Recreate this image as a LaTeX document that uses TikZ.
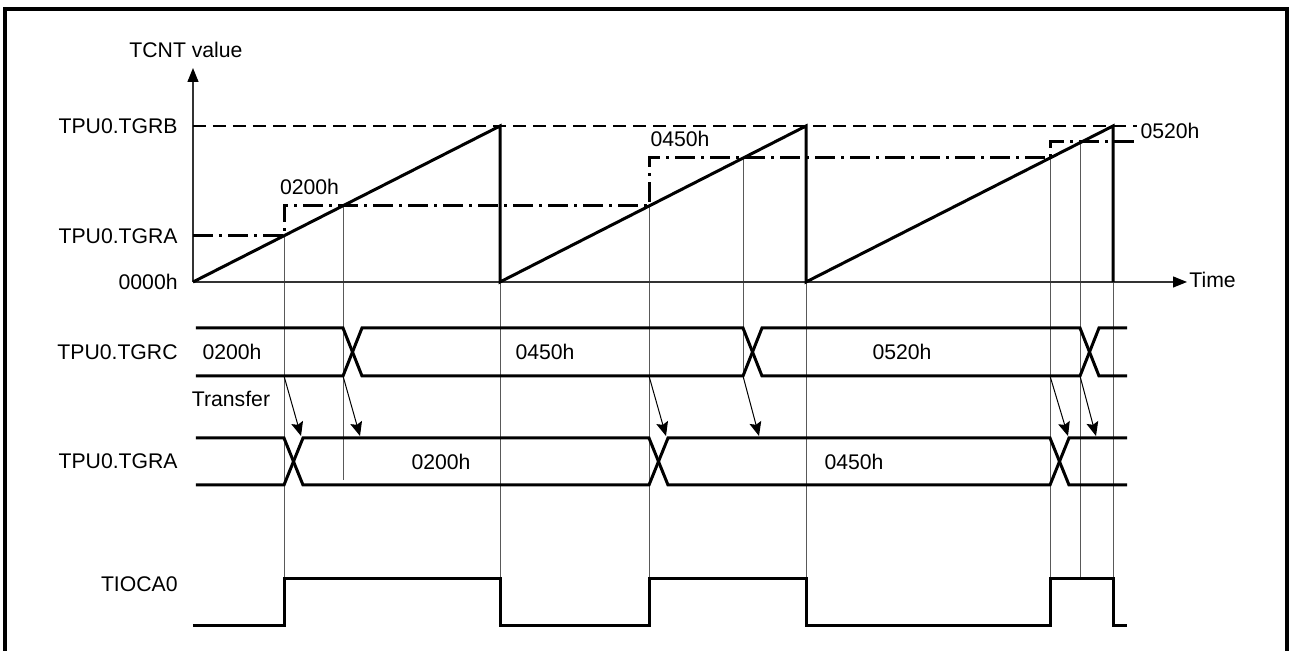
\documentclass[tikz,border=0pt]{standalone}
\usepackage{fontspec}
\setmainfont{Liberation Sans}
\usetikzlibrary{arrows.meta}

\begin{document}
\begin{tikzpicture}[x=0.5pt,y=0.5pt,
    lbl/.style={font=\fontsize{10.6}{12}\selectfont,inner sep=0pt},
    sig/.style={line width=1.5pt,line join=miter},
    guide/.style={black!65,line width=0.5pt},
    axis/.style={black!80,line width=0.6pt,-{Triangle[length=7pt,width=5.5pt,black]}},
    transfer/.style={line width=0.5pt,-{Stealth[length=7pt,width=6pt,inset=1.2pt]}},
    maxline/.style={line width=1pt,dash pattern=on 6.5pt off 3.5pt},
    cmpline/.style={line width=1.5pt,dash pattern=on 10pt off 3pt on 1.5pt off 3pt}]

  \useasboundingbox (-193,-369) rectangle (1097,282);

  % Cadre
  \draw[line width=2pt] (-188,-369) -- (-188,273) -- (1094,273) -- (1094,-369);

  % Lignes de rappel
  \foreach \x/\ya/\yb in {91/46/-297, 150/76/-198, 307/0/-297, 456/76/-297,
      550/124/-94, 613/0/-297, 857/124/-297, 887/140/-297, 920/0/-297} {
    \draw[guide] (\x,\ya) -- (\x,\yb);
  }

  % Axes
  \draw[axis] (0,0) -- (0,214);
  \draw[axis] (0,0) -- (994,0);
  \node[lbl] (tcnt) at (-7,232) {TCNT value};
  \node[lbl,anchor=west] (time) at (996,2) {Time};
  \node[lbl,anchor=east] (tgrb) at (-15,156) {TPU0.TGRB};
  \node[lbl,anchor=east] (tgra) at (-15,46) {TPU0.TGRA};
  \node[lbl,anchor=east] (zero) at (-15,0) {0000h};

  % Niveaux de comparaison
  \draw[maxline] (0,156) -- (944,156);
  \draw[cmpline] (0,46) -- (91,46) -- (91,76) -- (456,76) -- (456,124)
        -- (857,124) -- (857,140) -- (945,140);
  \node[lbl] (v200) at (116.5,95) {0200h};
  \node[lbl] (v450) at (487,143) {0450h};
  \node[lbl] (v520) at (977,151) {0520h};

  % Compteur TCNT
  \draw[sig] (0,0) -- (307,156) -- (307,0) -- (613,156) -- (613,0)
        -- (920,156) -- (920,0);

  % TPU0.TGRC
  \draw[sig] (3,-46) -- (150,-46) -- (169,-94) -- (550,-94) -- (569,-46)
        -- (887,-46) -- (906,-94) -- (934,-94);
  \draw[sig] (3,-94) -- (150,-94) -- (169,-46) -- (550,-46) -- (569,-94)
        -- (887,-94) -- (906,-46) -- (934,-46);
  \node[lbl,anchor=east] (rc) at (-15,-70) {TPU0.TGRC};
  \foreach \i/\x/\v in {1/39/0200h, 2/352/0450h, 3/709/0520h} {
    \node[lbl] (rc\i) at (\x,-70) {\v};
  }

  % Transferts
  \node[lbl] (xfer) at (38,-117) {Transfer};
  \foreach \i/\xa/\xb in {1/91/108, 2/150/167, 3/456/473, 4/550/566,
      5/857/875, 6/887/903} {
    \coordinate (src\i) at (\xa,-94);
    \coordinate (dst\i) at (\xb,-154);
    \draw[transfer] (src\i) -- (dst\i);
  }

  % TPU0.TGRA
  \draw[sig] (3,-156) -- (91,-156) -- (110,-203) -- (456,-203) -- (475,-156)
        -- (857,-156) -- (876,-203) -- (934,-203);
  \draw[sig] (3,-203) -- (91,-203) -- (110,-156) -- (456,-156) -- (475,-203)
        -- (857,-203) -- (876,-156) -- (934,-156);
  \node[lbl,anchor=east] (ra) at (-15,-179.5) {TPU0.TGRA};
  \foreach \i/\x/\v in {1/248/0200h, 2/661/0450h} {
    \node[lbl] (ra\i) at (\x,-179.5) {\v};
  }

  % TIOCA0
  \draw[sig] (0,-344) -- (91,-344) -- (91,-297) -- (307,-297) -- (307,-344)
        -- (456,-344) -- (456,-297) -- (613,-297) -- (613,-344) -- (857,-344)
        -- (857,-297) -- (920,-297) -- (920,-344) -- (934,-344);
  \node[lbl,anchor=east] (tio) at (-15,-302) {TIOCA0};

\end{tikzpicture}
\end{document}
